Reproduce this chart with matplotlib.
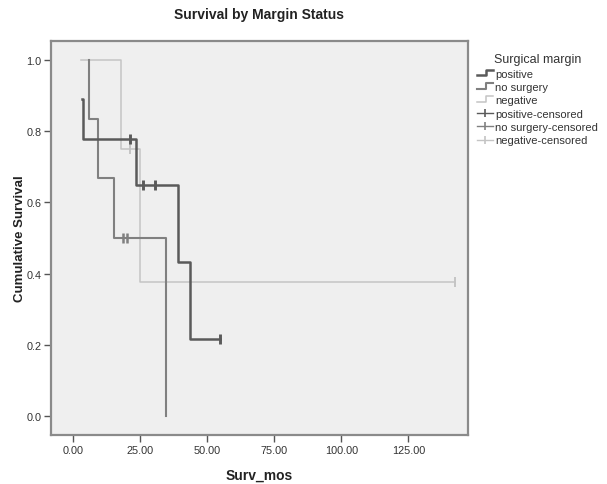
import matplotlib
matplotlib.use("Agg")
import matplotlib.pyplot as plt
from matplotlib.lines import Line2D
from matplotlib.legend_handler import HandlerBase

plt.rcParams["font.family"] = ["Liberation Sans", "DejaVu Sans"]

# step curves (time, cumulative survival)
pos_t = [3.3, 3.9, 23.4, 39.2, 43.6, 54.7]
pos_s = [0.889, 0.778, 0.648, 0.432, 0.216, 0.216]
pos_ct = [21.4, 26.0, 30.7, 54.7]
pos_cs = [0.778, 0.648, 0.648, 0.216]

nos_t = [6.2, 6.2, 9.5, 15.2, 34.9, 34.9]
nos_s = [1.0, 0.833, 0.667, 0.5, 0.0, 0.0]
nos_ct = [18.6, 20.2]
nos_cs = [0.5, 0.5]

neg_t = [3.1, 18.0, 25.0, 142.4]
neg_s = [1.0, 0.75, 0.375, 0.375]
neg_ct = [21.4, 142.4]
neg_cs = [0.75, 0.375]

labels = ["positive", "no surgery", "negative",
          "positive-censored", "no surgery-censored", "negative-censored"]
cols = ["#5a5a5a", "#808080", "#c4c4c4"]
lws = [1.8, 1.5, 1.1]

xticks = [0, 25, 50, 75, 100, 125]
yticks = [0.0, 0.2, 0.4, 0.6, 0.8, 1.0]


class StepHandler(HandlerBase):
    def create_artists(self, legend, orig, xd, yd, w, h, fontsize, trans):
        xs = [xd, xd + w * 0.55, xd + w * 0.55, xd + w]
        ys = [yd + h * 0.2, yd + h * 0.2, yd + h * 0.9, yd + h * 0.9]
        ln = Line2D(xs, ys, color=orig.get_color(), lw=orig.get_linewidth(),
                    transform=trans)
        return [ln]


fig = plt.figure(figsize=(6.07, 4.85), dpi=100)
ax = fig.add_axes([0.084, 0.101, 0.687, 0.812])
ax.set_facecolor("#efefef")

curves = [(pos_t, pos_s, pos_ct, pos_cs), (nos_t, nos_s, nos_ct, nos_cs),
          (neg_t, neg_s, neg_ct, neg_cs)]
# light first so the dark lines sit on top
for i in [2, 1, 0]:
    t, s, ct, cs = curves[i]
    ax.step(t, s, where="post", color=cols[i], lw=lws[i])
    ax.plot(ct, cs, ls="none", marker="|", ms=7, mew=lws[i] + 0.3, color=cols[i])

ax.set_xlim(-8.1, 147.2)
ax.set_ylim(-0.053, 1.052)
ax.set_xticks(xticks)
ax.set_xticklabels(["%.2f" % v for v in xticks])
ax.set_yticks(yticks)
ax.set_yticklabels(["%.1f" % v for v in yticks])
ax.tick_params(direction="out", length=5, width=1, color="#555555",
               labelsize=7.8, labelcolor="#333333", pad=2)
for sp in ax.spines.values():
    sp.set_color("#8a8a8a")
    sp.set_linewidth(1.6)

ax.set_xlabel("Surv_mos", fontsize=10, fontweight="bold", color="#222222")
ax.xaxis.set_label_coords(0.5, -0.083)
ax.set_ylabel("Cumulative Survival", fontsize=9.5, fontweight="bold", color="#222222")
ax.yaxis.set_label_coords(-0.06, 0.5)
ax.set_title("Survival by Margin Status", fontsize=10, fontweight="bold",
             color="#222222", pad=17)

handles = [Line2D([], [], color=cols[i], lw=lws[i]) for i in range(3)]
handles += [Line2D([], [], color=cols[i], lw=1.0, marker="|", ms=6, mew=1.2)
            for i in range(3)]
hmap = {h: StepHandler() for h in handles[:3]}
leg = fig.legend(handles, labels, handler_map=hmap, title="Surgical margin",
                 loc="upper left", bbox_to_anchor=(0.778, 0.897), frameon=False,
                 fontsize=8, title_fontsize=9, handlelength=1.5,
                 handletextpad=0.15, labelspacing=0.3, borderaxespad=0)
leg.get_title().set_color("#333333")
for txt in leg.get_texts():
    txt.set_color("#333333")

fig.savefig("out.png", dpi=100)
